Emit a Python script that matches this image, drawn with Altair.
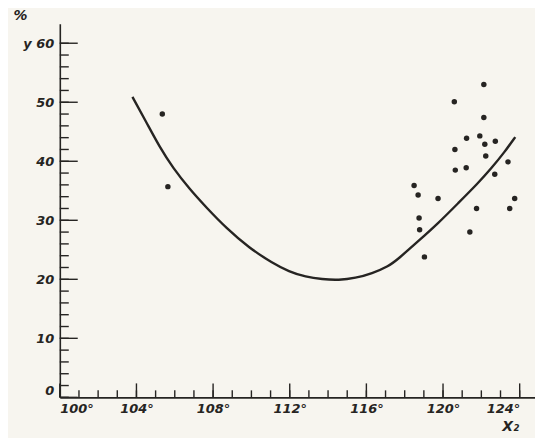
import altair as alt
import pandas as pd

# Curve (x in degrees, y in %)
curve_x = [103.79, 104.52, 105.21, 105.90, 106.77, 107.64, 108.68, 109.89, 111.10, 111.96,
           112.83, 113.69, 114.56, 115.43, 116.29, 117.16, 117.68, 118.72, 119.75, 120.79,
           121.83, 122.52, 123.22, 123.77]
curve_y = [50.9, 46.6, 42.4, 38.9, 35.3, 32.2, 28.7, 25.3, 22.75, 21.3,
           20.4, 20.0, 19.85, 20.2, 21.0, 22.2, 23.5, 26.5, 29.5, 32.9,
           36.3, 38.8, 41.6, 44.1]

# Scatter points
pts_x = [122.13, 120.59, 122.13, 121.23, 121.92, 122.18, 122.73, 120.62, 122.23, 123.39,
         120.64, 121.21, 122.70, 118.49, 118.70, 119.74, 123.74, 121.75, 123.48, 118.75,
         118.78, 121.40, 119.03, 105.35, 105.64]
pts_y = [53.0, 50.1, 47.4, 43.9, 44.3, 42.9, 43.4, 42.0, 40.9, 39.9,
         38.5, 38.9, 37.8, 35.9, 34.3, 33.7, 33.7, 32.0, 32.0, 30.4,
         28.4, 28.0, 23.8, 48.0, 35.7]

x_major = [100, 104, 108, 112, 116, 120, 124]
x_minor = list(range(100, 125))
y_major = [0, 10, 20, 30, 40, 50, 60]
y_minor = list(range(0, 61, 2))

INK = "#262422"
XDOM = [100, 124.8]
YDOM = [0, 63.3]
FONT = "DejaVu Sans"

xs = alt.Scale(domain=XDOM, nice=False, zero=False)
ys = alt.Scale(domain=YDOM, nice=False, zero=False)

xaxis = alt.Axis(
    values=x_major, labelExpr="datum.value + '°'", ticks=False, grid=False,
    domainColor=INK, domainWidth=1.6, labelColor=INK, labelFont=FONT,
    labelFontStyle="italic", labelFontWeight="bold", labelFontSize=13, labelPadding=5,
    labelOverlap=False, labelBound=False,
    labelAlign=alt.ExprRef(expr="datum.value == 124 ? 'right' : (datum.value == 100 ? 'left' : 'center')"),
    title="X₂", titleFont=FONT, titleFontStyle="italic", titleFontWeight="bold",
    titleFontSize=14, titleColor=INK, titleX=452, titleY=29,
    titleAlign="center", titleBaseline="middle")
yaxis = alt.Axis(
    values=y_major, labelExpr="datum.value == 60 ? 'y 60' : datum.label", ticks=False,
    grid=False, domainColor=INK, domainWidth=1.6, labelColor=INK, labelFont=FONT,
    labelFontStyle="italic", labelFontWeight="bold", labelFontSize=13, labelPadding=6,
    labelBaseline=alt.ExprRef(expr="datum.value == 0 ? 'bottom' : 'middle'"),
    title="%", titleAngle=0, titleFont=FONT, titleFontStyle="italic",
    titleFontWeight="bold", titleFontSize=14, titleColor=INK, titleX=-40, titleY=-8,
    titleAlign="center", titleBaseline="middle")

curve_df = pd.DataFrame({"x": curve_x, "y": curve_y})
pts_df = pd.DataFrame({"x": pts_x, "y": pts_y})

curve = alt.Chart(curve_df).mark_line(color=INK, strokeWidth=2.4, interpolate="basis").encode(
    x=alt.X("x:Q", scale=xs, axis=xaxis),
    y=alt.Y("y:Q", scale=ys, axis=yaxis),
)

points = alt.Chart(pts_df).mark_circle(color=INK, size=30, opacity=1).encode(
    x=alt.X("x:Q", scale=xs, axis=xaxis),
    y=alt.Y("y:Q", scale=ys, axis=yaxis),
)

xminor = alt.Chart(pd.DataFrame({"x": x_minor})).mark_rule(color=INK, strokeWidth=1.4).encode(
    x=alt.X("x:Q", scale=xs, axis=xaxis), y=alt.value(375), y2=alt.value(368))
xmajor = alt.Chart(pd.DataFrame({"x": x_major})).mark_rule(color=INK, strokeWidth=1.4).encode(
    x=alt.X("x:Q", scale=xs, axis=xaxis), y=alt.value(375), y2=alt.value(361))
yminor = alt.Chart(pd.DataFrame({"y": y_minor})).mark_rule(color=INK, strokeWidth=1.4).encode(
    y=alt.Y("y:Q", scale=ys, axis=yaxis), x=alt.value(0), x2=alt.value(9))
ymajor = alt.Chart(pd.DataFrame({"y": y_major})).mark_rule(color=INK, strokeWidth=1.4).encode(
    y=alt.Y("y:Q", scale=ys, axis=yaxis), x=alt.value(0), x2=alt.value(18))

chart = alt.layer(curve, points, xminor, xmajor, yminor, ymajor).properties(
    width=477, height=375,
    autosize=alt.AutoSizeParams(type="none"),
    padding={"left": 52, "top": 15, "right": 0, "bottom": 40},
    background="#f7f5ef",
).configure_view(stroke=None)

chart.save("out.html", embed_options={"renderer": "svg", "actions": False})
